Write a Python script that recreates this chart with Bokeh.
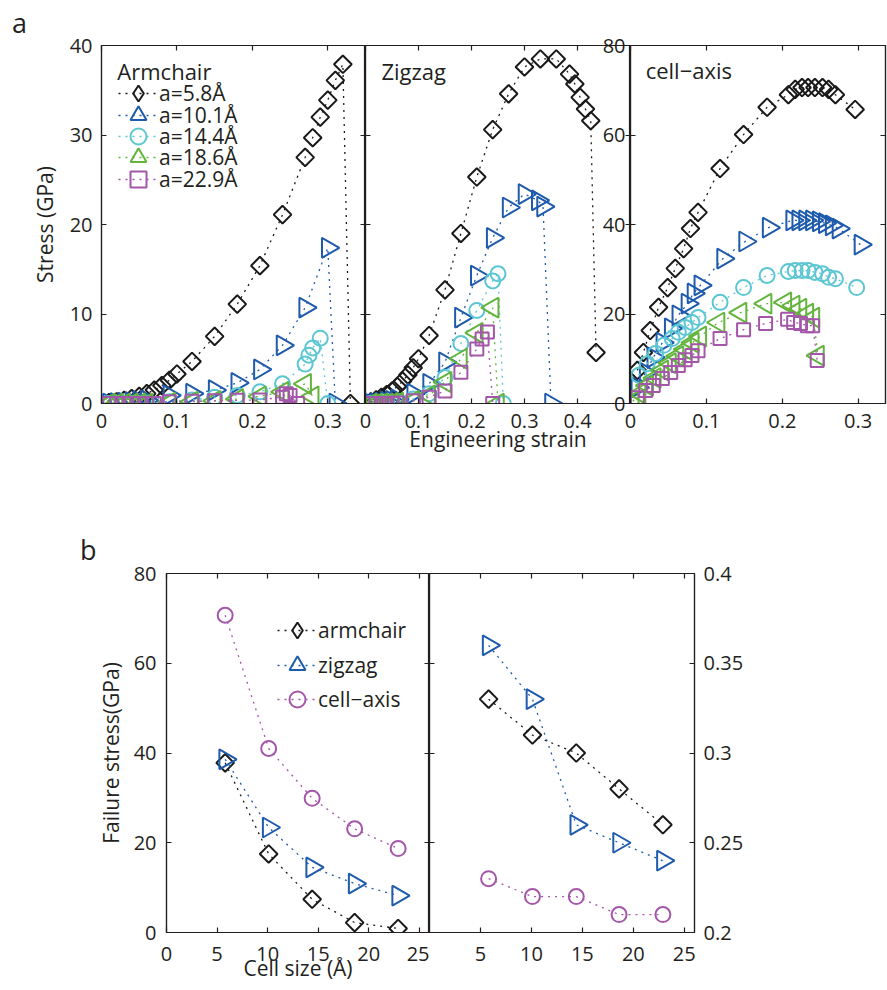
import math
from bokeh.plotting import figure
from bokeh.models import (Range1d, LinearAxis, FixedTicker, PrintfTickFormatter,
                          CustomJSTickFormatter, Label, Legend, LegendItem, Div)
from bokeh.layouts import row, column
from bokeh.embed import file_html
from bokeh.resources import INLINE

FONT = "Open Sans"
INK = "#231f20"
C_BLACK = "#1a1a1a"
C_BLUE = "#1f5bac"
C_CYAN = "#5cc6d2"
C_GREEN = "#63b43d"
C_PURPLE = "#a457a9"

# ---------------- Panel a data (engineering strain, stress in GPa) ----------------
size_labels = ["a=5.8Å", "a=10.1Å", "a=14.4Å", "a=18.6Å", "a=22.9Å"]

arm_58_strain = [0.01, 0.02, 0.03, 0.04, 0.05, 0.06, 0.07, 0.08, 0.09, 0.10, 0.12, 0.15, 0.18, 0.21, 0.24, 0.27, 0.28, 0.29, 0.30, 0.31, 0.32, 0.33]
arm_58_stress = [0.1, 0.2, 0.35, 0.55, 0.8, 1.1, 1.5, 2.0, 2.6, 3.3, 4.7, 7.5, 11.1, 15.4, 21.1, 27.5, 29.7, 32.0, 33.9, 36.1, 37.9, 0.0]
arm_101_strain = [0.01, 0.02, 0.03, 0.04, 0.05, 0.06, 0.09, 0.12, 0.15, 0.18, 0.21, 0.24, 0.27, 0.30, 0.31]
arm_101_stress = [0.0, 0.05, 0.1, 0.15, 0.25, 0.35, 0.9, 1.1, 1.5, 2.3, 3.8, 6.5, 10.7, 17.4, 0.0]
arm_144_strain = [0.01, 0.02, 0.03, 0.04, 0.05, 0.06, 0.09, 0.12, 0.15, 0.18, 0.21, 0.24, 0.27, 0.275, 0.28, 0.29, 0.30]
arm_144_stress = [0.0, 0.0, 0.0, 0.0, 0.0, 0.05, 0.2, 0.4, 0.7, 0.9, 1.3, 2.2, 4.4, 5.4, 6.2, 7.3, 0.0]
arm_186_strain = [0.01, 0.02, 0.03, 0.04, 0.05, 0.06, 0.09, 0.12, 0.15, 0.18, 0.21, 0.24, 0.27, 0.28]
arm_186_stress = [0.0, 0.0, 0.0, 0.0, 0.0, 0.0, 0.1, 0.2, 0.3, 0.5, 0.8, 1.3, 2.2, 0.8]
arm_229_strain = [0.01, 0.02, 0.03, 0.04, 0.05, 0.06, 0.07, 0.09, 0.12, 0.15, 0.18, 0.21, 0.24, 0.245, 0.25, 0.26]
arm_229_stress = [0.0, 0.0, 0.0, 0.0, 0.0, 0.0, 0.0, 0.2, 0.25, 0.3, 0.35, 0.4, 0.7, 1.1, 0.9, 0.0]

zig_58_strain = [0.01, 0.02, 0.03, 0.04, 0.05, 0.06, 0.07, 0.08, 0.09, 0.10, 0.12, 0.15, 0.18, 0.21, 0.24, 0.27, 0.30, 0.33, 0.36, 0.385, 0.395, 0.405, 0.415, 0.425, 0.435]
zig_58_stress = [0.2, 0.4, 0.7, 1.0, 1.4, 1.9, 2.5, 3.2, 4.0, 5.0, 7.6, 12.7, 19.0, 25.3, 30.6, 34.6, 37.6, 38.5, 38.5, 36.8, 35.7, 34.2, 32.9, 31.6, 5.7]
zig_101_strain = [0.01, 0.02, 0.03, 0.04, 0.05, 0.06, 0.09, 0.12, 0.15, 0.18, 0.21, 0.24, 0.27, 0.30, 0.325, 0.335, 0.35]
zig_101_stress = [0.0, 0.05, 0.1, 0.2, 0.3, 0.45, 1.1, 2.2, 4.6, 9.6, 14.3, 18.5, 21.9, 23.4, 22.7, 22.0, 0.0]
zig_144_strain = [0.01, 0.02, 0.03, 0.04, 0.05, 0.06, 0.09, 0.12, 0.15, 0.18, 0.21, 0.24, 0.25, 0.26]
zig_144_stress = [0.0, 0.0, 0.0, 0.05, 0.1, 0.2, 0.5, 1.1, 2.9, 6.7, 10.4, 13.7, 14.5, 0.0]
zig_186_strain = [0.01, 0.02, 0.03, 0.04, 0.05, 0.06, 0.09, 0.12, 0.15, 0.18, 0.21, 0.24, 0.25]
zig_186_stress = [0.0, 0.0, 0.0, 0.0, 0.05, 0.1, 0.3, 0.9, 2.4, 5.0, 7.9, 10.7, 0.0]
zig_229_strain = [0.01, 0.02, 0.03, 0.04, 0.05, 0.06, 0.09, 0.12, 0.15, 0.18, 0.21, 0.22, 0.23, 0.24]
zig_229_stress = [0.0, 0.0, 0.0, 0.0, 0.0, 0.05, 0.3, 0.7, 1.4, 3.5, 6.1, 7.2, 8.0, 0.0]

cell_58_strain = [0.009, 0.017, 0.026, 0.037, 0.049, 0.059, 0.070, 0.079, 0.089, 0.118, 0.149, 0.180, 0.208, 0.217, 0.226, 0.234, 0.243, 0.253, 0.261, 0.270, 0.296]
cell_58_stress = [7.4, 11.4, 16.3, 21.5, 25.9, 30.2, 34.6, 39.1, 42.7, 52.5, 60.1, 66.2, 69.0, 70.2, 70.6, 70.6, 70.6, 70.6, 70.2, 69.0, 65.7]
cell_101_strain = [0.009, 0.020, 0.030, 0.042, 0.053, 0.063, 0.075, 0.083, 0.092, 0.122, 0.151, 0.182, 0.213, 0.221, 0.230, 0.239, 0.248, 0.256, 0.265, 0.274, 0.303]
cell_101_stress = [3.6, 6.9, 10.3, 13.6, 16.8, 19.7, 22.3, 24.6, 26.4, 32.4, 36.2, 39.3, 40.9, 40.9, 40.9, 40.9, 40.7, 40.3, 39.8, 39.1, 35.5]
cell_144_strain = [0.011, 0.022, 0.033, 0.044, 0.055, 0.063, 0.072, 0.081, 0.089, 0.118, 0.149, 0.180, 0.208, 0.217, 0.226, 0.234, 0.243, 0.253, 0.261, 0.270, 0.298]
cell_144_stress = [6.3, 8.9, 11.2, 13.0, 14.5, 15.9, 17.0, 18.1, 19.2, 22.6, 25.9, 28.6, 29.5, 29.7, 29.7, 29.7, 29.3, 29.0, 28.2, 27.9, 25.9]
cell_186_strain = [0.003, 0.012, 0.022, 0.032, 0.042, 0.052, 0.062, 0.072, 0.082, 0.092, 0.116, 0.145, 0.178, 0.204, 0.215, 0.224, 0.233, 0.241, 0.247]
cell_186_stress = [0.5, 2.2, 4.0, 5.7, 7.4, 9.0, 10.6, 12.1, 13.6, 15.0, 18.1, 20.3, 22.3, 22.6, 21.9, 21.2, 20.1, 19.2, 10.7]
cell_229_strain = [0.009, 0.020, 0.030, 0.042, 0.053, 0.063, 0.072, 0.081, 0.089, 0.118, 0.149, 0.178, 0.207, 0.215, 0.224, 0.233, 0.240, 0.246]
cell_229_stress = [1.3, 2.9, 4.0, 5.6, 6.9, 8.5, 9.8, 10.7, 11.8, 14.5, 16.5, 17.9, 18.8, 18.1, 17.9, 17.4, 17.4, 9.6]

# ---------------- Panel b data ----------------
cell_size = [5.8, 10.1, 14.4, 18.6, 22.9]
fail_stress_armchair = [37.8, 17.5, 7.4, 2.2, 0.9]
fail_stress_zigzag = [38.6, 23.4, 14.5, 10.9, 8.2]
fail_stress_cellaxis = [70.7, 41.0, 29.9, 23.1, 18.7]
fail_strain_armchair = [0.33, 0.31, 0.30, 0.28, 0.26]
fail_strain_zigzag = [0.36, 0.33, 0.26, 0.25, 0.24]
fail_strain_cellaxis = [0.23, 0.22, 0.22, 0.21, 0.21]

b_labels = ["armchair", "zigzag", "cell\u2212axis"]

# ---------------- styles ----------------
ST_DIAMOND = dict(marker="square", angle=math.pi / 4, size=12.5, color=C_BLACK)
ST_TRI_R = dict(marker="triangle", angle=-math.pi / 2, size=20, color=C_BLUE)
ST_CIRC_C = dict(marker="circle", angle=0.0, size=15, color=C_CYAN)
ST_TRI_L = dict(marker="triangle", angle=math.pi / 2, size=20, color=C_GREEN)
ST_SQ = dict(marker="square", angle=0.0, size=13, color=C_PURPLE)
ST_CIRC_P = dict(marker="circle", angle=0.0, size=15, color=C_PURPLE)
a_styles = [ST_DIAMOND, ST_TRI_R, ST_CIRC_C, ST_TRI_L, ST_SQ]
b_styles = [ST_DIAMOND, ST_TRI_R, ST_CIRC_P]


def base_fig(xr, yr, fw, fh, lb, rb, tb, bb, margin=None):
    kw = {}
    if margin is not None:
        kw["margin"] = margin
    p = figure(frame_width=fw, frame_height=fh,
               x_range=Range1d(*xr), y_range=Range1d(*yr),
               x_axis_location=None, y_axis_location=None,
               output_backend="svg", toolbar_location=None,
               min_border_left=lb, min_border_right=rb,
               min_border_top=tb, min_border_bottom=bb, **kw)
    p.grid.visible = False
    p.outline_line_color = INK
    p.outline_line_width = 1.2
    p.border_fill_alpha = 0
    p.background_fill_alpha = 0
    return p


def add_axis(p, side, ticks, show_labels, standoff=5, label=None, label_standoff=0):
    if show_labels:
        fmt = PrintfTickFormatter(format="%g")
    else:
        fmt = CustomJSTickFormatter(code="return ''")
    ax = LinearAxis(ticker=FixedTicker(ticks=ticks), formatter=fmt)
    ax.major_tick_in = 5
    ax.major_tick_out = 0
    ax.minor_tick_in = 0
    ax.minor_tick_out = 0
    ax.minor_tick_line_color = None
    ax.axis_line_color = INK
    ax.axis_line_width = 1.2
    ax.major_tick_line_color = INK
    ax.major_tick_line_width = 1.2
    ax.major_label_text_font = FONT
    ax.major_label_text_color = INK
    ax.major_label_text_font_size = "20px"
    if show_labels:
        ax.major_label_standoff = standoff
    else:
        ax.major_label_standoff = 0
        ax.major_label_text_alpha = 0
    if label is not None:
        ax.axis_label = label
        ax.axis_label_text_font = FONT
        ax.axis_label_text_font_size = "21px"
        ax.axis_label_text_font_style = "normal"
        ax.axis_label_text_color = INK
        ax.axis_label_standoff = label_standoff
    p.add_layout(ax, side)
    return ax


def draw_series(p, xs, ys, st):
    lr = p.line(xs, ys, line_color=st["color"], line_dash="2 5", line_width=1.3)
    sr = p.scatter(xs, ys, marker=st["marker"], angle=st["angle"], size=st["size"],
                   line_color=st["color"], fill_color=None, line_width=2)
    key = sr
    if st is ST_DIAMOND:
        # a plain diamond marker used only as the legend key of this series
        key = p.scatter(xs, ys, marker="diamond", size=18, line_color=st["color"],
                        fill_color=None, line_width=2, visible=False)
    return lr, key


def add_key(p, label, renderers, vx, vy):
    leg = Legend(items=[LegendItem(label=label, renderers=list(renderers))],
                 location=(vx, vy), glyph_width=40, glyph_height=40, spacing=0,
                 padding=0, margin=0, label_standoff=1,
                 label_text_font=FONT, label_text_font_size="21px", label_text_color=INK,
                 border_line_color=None, background_fill_alpha=0)
    p.add_layout(leg)


def text_label(p, x, y, text, size="22px", align="left", baseline="alphabetic", angle=0.0):
    p.add_layout(Label(x=x, y=y, text=text, text_font=FONT, text_font_size=size,
                       text_color=INK, text_align=align, text_baseline=baseline, angle=angle))


Y_TICKS_40 = [0, 10, 20, 30, 40]
Y_TICKS_80 = [0, 20, 40, 60, 80]

# ---------------- Panel a ----------------
TB_A, FH_A, BB_A = 45, 358, 70

fa1 = base_fig((0, 0.35), (0, 40), 264, FH_A, 101, 0, TB_A, BB_A)
add_axis(fa1, "left", Y_TICKS_40, True, standoff=9, label="Stress (GPa)", label_standoff=8)
add_axis(fa1, "below", [0, 0.1, 0.2, 0.3], True, standoff=10)
add_axis(fa1, "above", [0, 0.1, 0.2, 0.3], False)
add_axis(fa1, "right", Y_TICKS_40, False)
arm_series = [(arm_58_strain, arm_58_stress), (arm_101_strain, arm_101_stress),
              (arm_144_strain, arm_144_stress), (arm_186_strain, arm_186_stress),
              (arm_229_strain, arm_229_stress)]
a_key_vy = [290, 268, 247, 226, 204]
for (xs, ys), st, lab, vy in zip(arm_series, a_styles, size_labels, a_key_vy):
    keys = draw_series(fa1, xs, ys, st)
    add_key(fa1, lab, keys, 17, vy)
text_label(fa1, 0.021, 37.2, "Armchair")

fa2 = base_fig((0, 0.5), (0, 40), 265, FH_A, 12, 0, TB_A, BB_A, margin=(0, 0, 0, -12))
add_axis(fa2, "left", Y_TICKS_40, False)
add_axis(fa2, "below", [0, 0.1, 0.2, 0.3, 0.4], True, standoff=10,
         label="Engineering strain", label_standoff=-6)
add_axis(fa2, "above", [0, 0.1, 0.2, 0.3, 0.4], False)
add_axis(fa2, "right", Y_TICKS_40, False)
zig_series = [(zig_58_strain, zig_58_stress), (zig_101_strain, zig_101_stress),
              (zig_144_strain, zig_144_stress), (zig_186_strain, zig_186_stress),
              (zig_229_strain, zig_229_stress)]
for (xs, ys), st in zip(zig_series, a_styles):
    draw_series(fa2, xs, ys, st)
text_label(fa2, 0.030, 37.1, "Zigzag")

fa3 = base_fig((0, 0.336), (0, 80), 255, FH_A, 40, 2, TB_A, BB_A, margin=(0, 0, 0, -40))
add_axis(fa3, "left", Y_TICKS_80, True, standoff=5)
add_axis(fa3, "below", [0, 0.1, 0.2, 0.3], True, standoff=10)
add_axis(fa3, "above", [0, 0.1, 0.2, 0.3], False)
add_axis(fa3, "right", Y_TICKS_80, False)
cell_series = [(cell_58_strain, cell_58_stress), (cell_101_strain, cell_101_stress),
               (cell_144_strain, cell_144_stress), (cell_186_strain, cell_186_stress),
               (cell_229_strain, cell_229_stress)]
for (xs, ys), st in zip(cell_series, a_styles):
    draw_series(fa3, xs, ys, st)
text_label(fa3, 0.020, 74.6, "cell\u2212axis")

# ---------------- Panel b ----------------
TB_B, FH_B, BB_B = 100, 359, 57

fb1 = base_fig((0, 26), (0, 80), 263, FH_B, 166, 0, TB_B, BB_B)
add_axis(fb1, "left", Y_TICKS_80, True, standoff=10, label="Failure stress(GPa)", label_standoff=6)
add_axis(fb1, "below", [0, 5, 10, 15, 20, 25], True, standoff=14,
         label="Cell size (Å)", label_standoff=-10)
add_axis(fb1, "above", [0, 5, 10, 15, 20, 25], False)
add_axis(fb1, "right", Y_TICKS_80, False)
b_key_vy = [282, 247, 213]
for ys, st, lab, vy in zip([fail_stress_armchair, fail_stress_zigzag, fail_stress_cellaxis],
                           b_styles, b_labels, b_key_vy):
    keys = draw_series(fb1, cell_size, ys, st)
    add_key(fb1, lab, keys, 111, vy)

fb2 = base_fig((0, 26), (0.2, 0.4), 265, FH_B, 0, 100, TB_B, BB_B)
add_axis(fb2, "left", [0.2, 0.25, 0.3, 0.35, 0.4], False)
add_axis(fb2, "below", [5, 10, 15, 20, 25], True, standoff=14)
add_axis(fb2, "above", [0, 5, 10, 15, 20, 25], False)
add_axis(fb2, "right", [0.2, 0.25, 0.3, 0.35, 0.4], True, standoff=9)
for ys, st in zip([fail_strain_armchair, fail_strain_zigzag, fail_strain_cellaxis], b_styles):
    draw_series(fb2, cell_size, ys, st)
text_label(fb2, 32.9, 0.298, "Failure strain", size="21px", align="center",
           baseline="middle", angle=math.pi / 2)

# ---------------- panel letters and page layout ----------------
LETTER_STYLE = {"font-family": FONT, "font-size": "27px", "line-height": "27px", "color": INK}
div_a = Div(text="a", width=30, height=27, margin=(9, 0, 0, 12), styles=LETTER_STYLE)
div_b = Div(text="b", width=30, height=27, margin=(63, 0, 0, 80), styles=LETTER_STYLE)
row_a = row(fa1, fa2, fa3, margin=(-36, 0, 0, 0))
row_b = row(fb1, fb2, margin=(-90, 0, 0, 0))

layout = column(div_a, row_a, div_b, row_b)
open("out.html", "w").write(file_html(layout, INLINE, "chart"))
